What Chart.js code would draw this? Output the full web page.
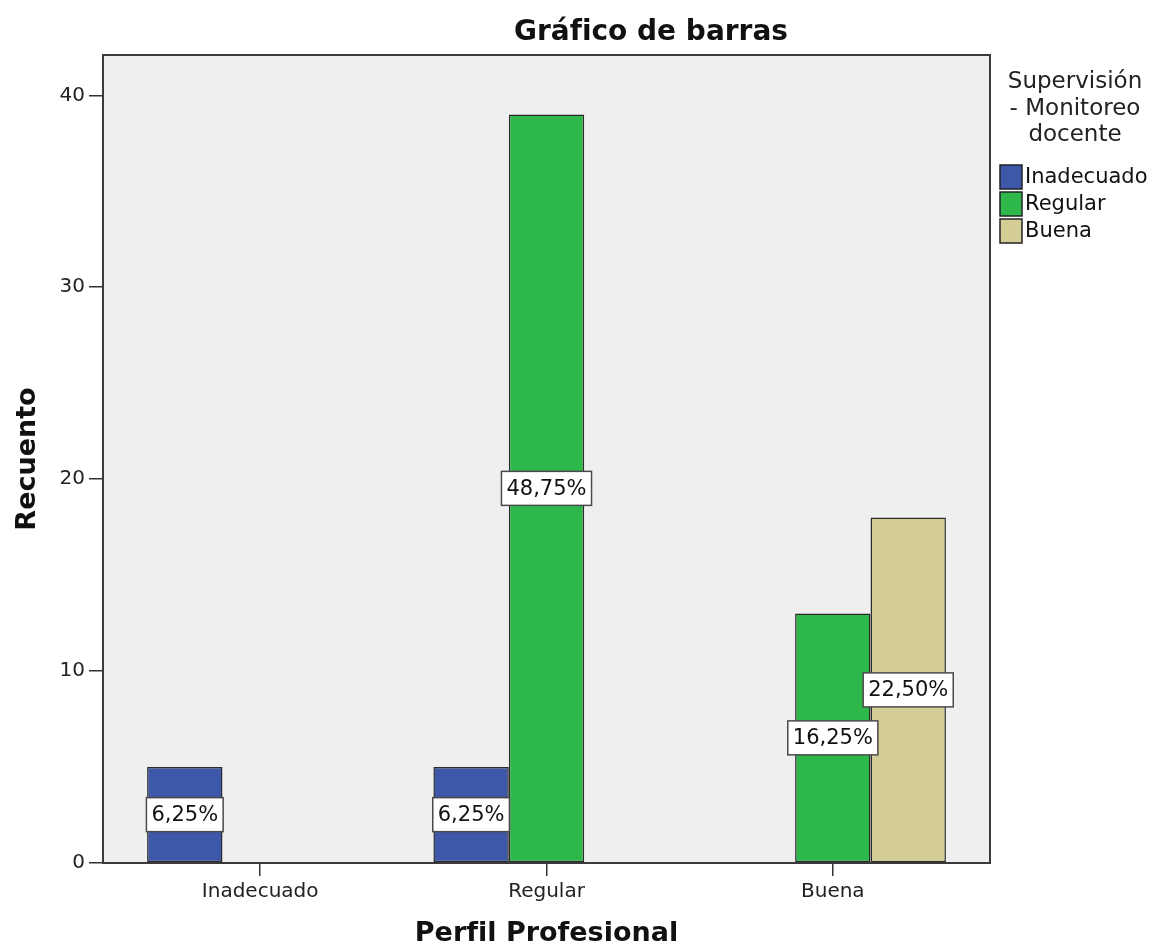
<!DOCTYPE html>
<html lang="es">
<head>
<meta charset="utf-8">
<title>Gráfico de barras</title>
<script src="https://cdn.jsdelivr.net/npm/chart.js@4.4.1/dist/chart.umd.min.js"></script>
<style>
    html, body { margin: 0; padding: 0; background: #fff; }
    #wrap { width: 1153px; height: 950px; position: relative; }
</style>
</head>
<body>
<div id="wrap"><canvas id="chart-barras"></canvas></div>
<script>
// Datos del gráfico
const categorias = ['Inadecuado', 'Regular', 'Buena'];
const seriesNombres = ['Inadecuado', 'Regular', 'Buena'];
const valoresInadecuado = [5, 5, 0];
const valoresRegular = [0, 39, 13];
const valoresBuena = [0, 0, 18];
const ticksY = [0, 10, 20, 30, 40];
const tituloGrafico = 'Gráfico de barras';
const tituloLeyenda = ['Supervisión', '- Monitoreo', 'docente'];
const tituloEjeX = 'Perfil Profesional';
const tituloEjeY = 'Recuento';

const fuente = '"DejaVu Sans", "Liberation Sans", Arial, sans-serif';
const colores = {
    Inadecuado: '#3d57a9',
    Regular: '#2eb84b',
    Buena: '#d4cd96'
};

const valores = [valoresInadecuado, valoresRegular, valoresBuena];
const total = valores.flat().reduce((a, b) => a + b, 0);

function formatoPorcentaje(v) {
    return (v / total * 100).toFixed(2).replace('.', ',') + '%';
}

// Fondo gris, marco, etiquetas de porcentaje, título y leyenda
const decoracionSpss = {
    id: 'decoracionSpss',
    beforeDraw(chart) {
        const { ctx, chartArea: a } = chart;
        ctx.save();
        ctx.fillStyle = '#ffffff';
        ctx.fillRect(0, 0, chart.width, chart.height);
        ctx.fillStyle = '#efefef';
        ctx.fillRect(a.left, a.top, a.right - a.left, a.bottom - a.top);
        ctx.restore();
    },
    afterDatasetsDraw(chart) {
        const { ctx, chartArea: a } = chart;
        ctx.save();
        ctx.strokeStyle = '#3a3a3a';
        ctx.lineWidth = 2;
        ctx.strokeRect(a.left, a.top, a.right - a.left, a.bottom - a.top);

        ctx.font = '21px ' + fuente;
        ctx.textAlign = 'center';
        ctx.textBaseline = 'middle';
        chart.data.datasets.forEach((ds, s) => {
            const meta = chart.getDatasetMeta(s);
            meta.data.forEach((bar, i) => {
                const v = ds.data[i].y;
                if (!v) return;
                const p = bar.getProps(['x', 'y', 'base', 'width'], true);
                const texto = formatoPorcentaje(v);
                const w = Math.max(p.width, ctx.measureText(texto).width + 10);
                const h = 34;
                const cy = (p.y + p.base) / 2;
                ctx.fillStyle = '#ffffff';
                ctx.fillRect(p.x - w / 2, cy - h / 2, w, h);
                ctx.strokeStyle = '#4a4a4a';
                ctx.lineWidth = 1.5;
                ctx.strokeRect(p.x - w / 2, cy - h / 2, w, h);
                ctx.fillStyle = '#111';
                ctx.fillText(texto, p.x, cy + 1);
            });
        });
        ctx.restore();
    },
    afterDraw(chart) {
        const { ctx } = chart;
        ctx.save();
        ctx.fillStyle = '#111';
        ctx.textAlign = 'center';
        ctx.textBaseline = 'alphabetic';
        ctx.font = 'bold 28px ' + fuente;
        ctx.fillText(tituloGrafico, 651, 40);

        ctx.font = '23px ' + fuente;
        ctx.fillStyle = '#222';
        [88, 115, 141].forEach((yb, i) => ctx.fillText(tituloLeyenda[i], 1075, yb));

        ctx.font = '21px ' + fuente;
        ctx.textAlign = 'left';
        ctx.textBaseline = 'middle';
        chart.data.datasets.forEach((ds, i) => {
            const y = 165 + i * 27;
            ctx.fillStyle = ds.backgroundColor;
            ctx.fillRect(1000, y, 22, 24);
            ctx.strokeStyle = '#222';
            ctx.lineWidth = 1.5;
            ctx.strokeRect(1000, y, 22, 24);
            ctx.fillStyle = '#111';
            ctx.fillText(ds.label, 1025, y + 13);
        });
        ctx.restore();
    }
};

const datasets = seriesNombres.map((nombre, s) => ({
    label: nombre,
    data: valores[s].map((v, i) => ({ x: i, y: v })),
    backgroundColor: colores[nombre],
    borderColor: '#2b2b2b',
    borderWidth: c => (c.raw && c.raw.y > 0 ? 1.5 : 0),
    borderSkipped: false,
    categoryPercentage: 0.79,
    barPercentage: 1
}));

document.addEventListener('DOMContentLoaded', function() {
    new Chart(document.getElementById('chart-barras'), {
        type: 'bar',
        data: { datasets: datasets },
        options: {
            responsive: true,
            maintainAspectRatio: false,
            animation: false,
            layout: { padding: { top: 55, right: 163, left: 0, bottom: 0 } },
            plugins: {
                legend: { display: false },
                tooltip: { enabled: false }
            },
            scales: {
                x: {
                    type: 'linear',
                    min: -0.549,
                    max: 2.549,
                    offset: false,
                    afterBuildTicks: s => { s.ticks = categorias.map((c, i) => ({ value: i })); },
                    afterFit: s => { s.height = 87; },
                    ticks: {
                        callback: v => categorias[v] ?? '',
                        color: '#222',
                        font: { family: fuente, size: 20 },
                        padding: 4,
                        maxRotation: 0,
                        autoSkip: false
                    },
                    grid: { offset: false, drawOnChartArea: false, drawTicks: true, tickLength: 13, color: '#333', lineWidth: 1.5 },
                    border: { display: false },
                    title: {
                        display: true,
                        text: tituloEjeX,
                        color: '#111',
                        font: { family: fuente, size: 27, weight: 'bold' },
                        padding: { top: 1, bottom: 0 }
                    }
                },
                y: {
                    min: 0,
                    max: 42.1,
                    afterBuildTicks: s => { s.ticks = ticksY.map(v => ({ value: v })); },
                    afterFit: s => { s.width = 103; },
                    ticks: {
                        color: '#222',
                        font: { family: fuente, size: 20 },
                        padding: 4
                    },
                    grid: { drawOnChartArea: false, drawTicks: true, tickLength: 14, color: '#333', lineWidth: 1.5 },
                    border: { display: false },
                    title: {
                        display: true,
                        text: tituloEjeY,
                        color: '#111',
                        font: { family: fuente, size: 27, weight: 'bold' },
                        padding: { top: 12, bottom: 0 }
                    }
                }
            }
        },
        plugins: [decoracionSpss]
    });
});
</script>
</body>
</html>
